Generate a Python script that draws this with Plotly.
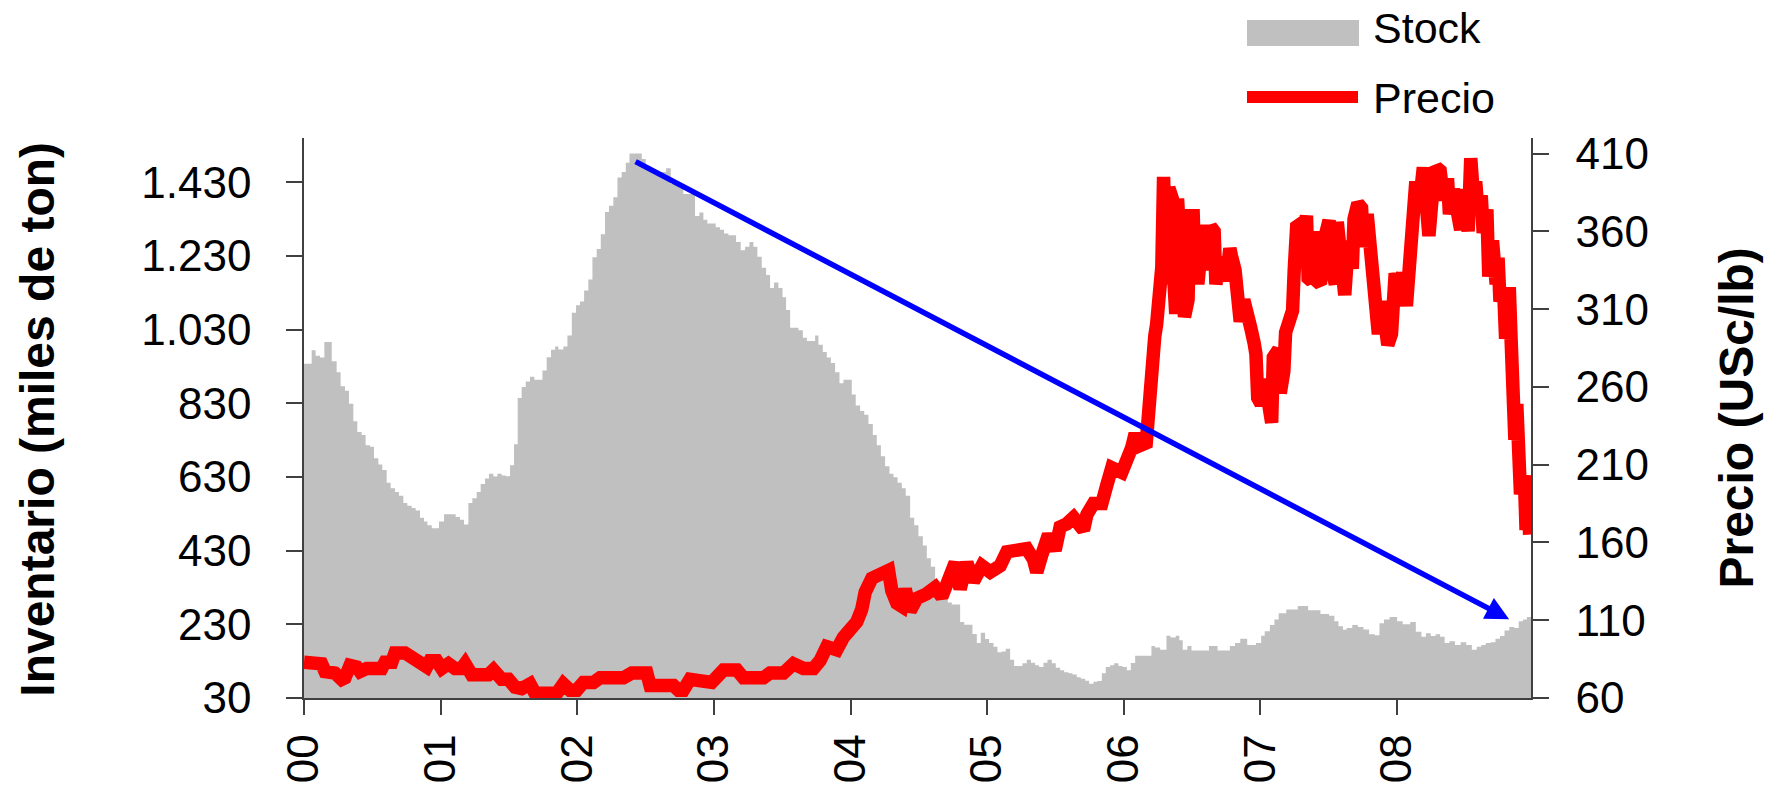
import plotly.graph_objects as go

# ---------------- data ----------------
# x values are years since 2000 (decimal), axis labels 00..08
stock_years = [
    0.000, 0.056, 0.085, 0.117, 0.149, 0.203, 0.239, 0.268, 0.300, 0.329,
    0.361, 0.390, 0.422, 0.451, 0.483, 0.512, 0.544, 0.573, 0.605, 0.634,
    0.666, 0.695, 0.727, 0.756, 0.788, 0.817, 0.849, 0.878, 0.903, 0.935,
    0.988, 1.025, 1.110, 1.142, 1.171, 1.203, 1.232, 1.264, 1.293, 1.325,
    1.354, 1.386, 1.415, 1.447, 1.476, 1.508, 1.537, 1.564, 1.593, 1.623,
    1.654, 1.686, 1.745, 1.776, 1.808, 1.838, 1.862, 1.898, 1.928, 1.960,
    1.991, 2.020, 2.050, 2.081, 2.111, 2.142, 2.172, 2.203, 2.232, 2.264,
    2.294, 2.325, 2.355, 2.382, 2.472, 2.501, 2.533, 2.562, 2.650, 2.684,
    2.776, 2.862, 2.894, 2.923, 2.952, 3.013, 3.045, 3.074, 3.106, 3.162,
    3.196, 3.228, 3.260, 3.289, 3.318, 3.350, 3.382, 3.411, 3.440, 3.472,
    3.502, 3.528, 3.558, 3.619, 3.651, 3.680, 3.741, 3.765, 3.797, 3.826,
    3.856, 3.887, 3.919, 3.948, 4.009, 4.038, 4.070, 4.100, 4.131, 4.163,
    4.192, 4.222, 4.253, 4.285, 4.314, 4.344, 4.375, 4.404, 4.436, 4.466,
    4.497, 4.529, 4.558, 4.588, 4.619, 4.651, 4.680, 4.712, 4.741, 4.802,
    4.832, 4.892, 4.924, 4.953, 4.985, 5.014, 5.046, 5.075, 5.107, 5.136,
    5.168, 5.197, 5.258, 5.290, 5.320, 5.351, 5.380, 5.412, 5.441, 5.473,
    5.502, 5.534, 5.563, 5.595, 5.624, 5.656, 5.685, 5.717, 5.746, 5.778,
    5.807, 5.839, 5.868, 5.900, 5.929, 5.961, 5.990, 6.022, 6.051, 6.083,
    6.202, 6.227, 6.266, 6.312, 6.342, 6.380, 6.406, 6.431, 6.465, 6.495,
    6.623, 6.686, 6.776, 6.814, 6.852, 6.903, 6.967, 7.005, 7.031, 7.069,
    7.102, 7.133, 7.189, 7.273, 7.349, 7.439, 7.502, 7.541, 7.571, 7.604,
    7.630, 7.672, 7.713, 7.754, 7.795, 7.836, 7.871, 7.904, 7.945, 8.000,
    8.041, 8.096, 8.137, 8.178, 8.211, 8.246, 8.282, 8.315, 8.348, 8.383,
    8.424, 8.465, 8.506, 8.547, 8.583, 8.616, 8.649, 8.684, 8.720, 8.753,
    8.786, 8.821, 8.857, 8.890, 8.922, 8.950, 8.980,
]
stock_values = [
    937, 974, 959, 954, 996, 944, 914, 876, 864, 829,
    781, 752, 744, 716, 712, 681, 664, 649, 614, 599,
    589, 579, 559, 552, 546, 539, 519, 509, 499, 491,
    509, 529, 521, 514, 501, 559, 572, 589, 611, 626,
    639, 631, 639, 634, 632, 662, 719, 844, 874, 889,
    902, 894, 919, 955, 975, 984, 976, 984, 1014, 1076,
    1096, 1106, 1136, 1166, 1226, 1249, 1289, 1349, 1366, 1389,
    1443, 1458, 1483, 1508, 1493, 1468, 1465, 1458, 1468, 1425,
    1398, 1338, 1348, 1328, 1318, 1308, 1301, 1291, 1286, 1268,
    1245, 1255, 1268, 1255, 1228, 1198, 1178, 1143, 1158, 1143,
    1118, 1083, 1035, 1028, 1008, 999, 1014, 989, 969, 954,
    939, 914, 884, 894, 854, 824, 809, 799, 774, 744,
    716, 686, 659, 639, 629, 614, 599, 579, 519, 499,
    469, 444, 409, 386, 349, 319, 304, 289, 284, 236,
    229, 204, 179, 207, 190, 179, 169, 154, 156, 164,
    134, 117, 124, 134, 126, 119, 114, 126, 134, 124,
    112, 105, 100, 97, 94, 86, 82, 77, 69, 74,
    76, 97, 114, 119, 124, 117, 114, 105, 125, 145,
    171, 167, 161, 199, 194, 199, 187, 161, 171, 159,
    171, 159, 171, 179, 191, 174, 179, 199, 211, 228,
    243, 260, 270, 280, 268, 258, 253, 238, 225, 215,
    220, 228, 223, 216, 203, 200, 233, 243, 250, 238,
    230, 236, 210, 196, 206, 198, 203, 196, 179, 184,
    174, 181, 174, 161, 169, 174, 179, 181, 191, 198,
    213, 223, 220, 238, 243, 250, 250,
]

price_years = [
    0.000, 0.044, 0.056, 0.080, 0.129, 0.154, 0.203, 0.227, 0.276, 0.300,
    0.337, 0.385, 0.410, 0.434, 0.459, 0.569, 0.593, 0.642, 0.666, 0.739,
    0.788, 0.849, 0.898, 0.922, 0.971, 1.008, 1.057, 1.105, 1.154, 1.179,
    1.227, 1.350, 1.386, 1.447, 1.496, 1.545, 1.593, 1.654, 1.691, 1.813,
    1.850, 1.898, 1.947, 1.996, 2.045, 2.118, 2.167, 2.338, 2.399, 2.509,
    2.533, 2.606, 2.655, 2.704, 2.741, 2.776, 2.825, 2.948, 2.984, 3.070,
    3.168, 3.216, 3.363, 3.411, 3.509, 3.582, 3.655, 3.729, 3.777, 3.826,
    3.875, 3.899, 3.948, 3.997, 4.046, 4.082, 4.107, 4.156, 4.217, 4.278,
    4.302, 4.339, 4.375, 4.400, 4.436, 4.485, 4.558, 4.619, 4.668, 4.717,
    4.766, 4.802, 4.851, 4.900, 4.961, 5.022, 5.095, 5.144, 5.241, 5.290,
    5.339, 5.363, 5.400, 5.449, 5.497, 5.534, 5.583, 5.632, 5.705, 5.730,
    5.778, 5.839, 5.876, 5.912, 5.985, 6.022, 6.058, 6.083, 6.110, 6.164,
    6.176, 6.189, 6.215, 6.227, 6.240, 6.266, 6.278, 6.291, 6.312, 6.329,
    6.355, 6.368, 6.380, 6.393, 6.406, 6.419, 6.444, 6.470, 6.483, 6.508,
    6.521, 6.546, 6.559, 6.584, 6.610, 6.635, 6.661, 6.674, 6.699, 6.725,
    6.750, 6.776, 6.788, 6.814, 6.827, 6.852, 6.878, 6.903, 6.929, 6.954,
    6.967, 6.980, 7.005, 7.031, 7.056, 7.082, 7.094, 7.133, 7.145, 7.171,
    7.184, 7.209, 7.235, 7.247, 7.265, 7.298, 7.324, 7.337, 7.349, 7.375,
    7.400, 7.413, 7.439, 7.451, 7.477, 7.502, 7.528, 7.548, 7.562, 7.576,
    7.598, 7.617, 7.644, 7.672, 7.685, 7.713, 7.740, 7.754, 7.781, 7.795,
    7.808, 7.836, 7.850, 7.863, 7.891, 7.918, 7.932, 7.959, 7.986, 8.014,
    8.041, 8.068, 8.096, 8.123, 8.137, 8.164, 8.192, 8.205, 8.233, 8.260,
    8.287, 8.315, 8.342, 8.369, 8.383, 8.411, 8.438, 8.465, 8.493, 8.520,
    8.539, 8.561, 8.575, 8.588, 8.616, 8.630, 8.657, 8.671, 8.698, 8.725,
    8.739, 8.753, 8.780, 8.794, 8.821, 8.835, 8.848, 8.862, 8.876, 8.890,
    8.903, 8.931, 8.944, 8.958, 8.970,
]
price_values = [
    83, 83, 84, 82, 82, 77, 77, 76, 72, 73,
    81, 80, 77, 78, 79, 79, 83, 83, 89, 89,
    86, 81, 80, 84, 84, 79, 82, 79, 79, 82,
    75, 75, 78, 72, 72, 67, 66, 69, 63, 63,
    63, 69, 65, 65, 70, 70, 73, 73, 76, 76,
    68, 68, 68, 68, 65, 65, 72, 72, 70, 78,
    78, 73, 73, 76, 76, 82, 79, 79, 84, 93,
    93, 91, 99, 104, 109, 117, 128, 137, 139, 142,
    129, 121, 119, 130, 116, 124, 127, 131, 125, 138,
    147, 130, 147, 135, 145, 141, 145, 154, 154, 156,
    149, 141, 152, 165, 155, 170, 172, 176, 168, 178,
    185, 185, 197, 208, 205, 211, 221, 230, 222, 224,
    242, 260, 265, 293, 300, 330, 337, 395, 326, 388,
    381, 326, 307, 381, 358, 307, 305, 316, 370, 370,
    330, 330, 360, 364, 335, 363, 360, 326, 340, 342,
    328, 349, 344, 335, 307, 302, 316, 300, 298, 288,
    281, 253, 249, 265, 249, 237, 279, 284, 256, 270,
    295, 307, 309, 335, 363, 365, 363, 370, 330, 328,
    360, 328, 326, 349, 360, 367, 333, 326, 366, 347,
    324, 319, 354, 336, 368, 378, 375, 350, 371, 359,
    340, 336, 308, 294, 315, 294, 287, 294, 333, 324,
    333, 312, 354, 364, 392, 378, 401, 387, 357, 385,
    401, 399, 380, 394, 371, 387, 378, 361, 387, 360,
    407, 380, 392, 378, 383, 359, 374, 331, 354, 326,
    343, 315, 322, 291, 324, 289, 256, 226, 249, 196,
    191, 203, 168, 191, 165,
]

year_ticks = [0, 1, 2, 3, 4, 5, 6, 7, 8]
year_labels = ["00", "01", "02", "03", "04", "05", "06", "07", "08"]
stock_ticks = [30, 230, 430, 630, 830, 1030, 1230, 1430]
stock_labels = ["30", "230", "430", "630", "830", "1.030", "1.230", "1.430"]
price_ticks = [60, 110, 160, 210, 260, 310, 360, 410]
price_labels = ["60", "110", "160", "210", "260", "310", "360", "410"]

trend_start = (2.416, 1488)   # (year, stock)
trend_end = (8.82, 244)

# ---------------- figure ----------------
FONT = "Liberation Sans, Arial, Helvetica, sans-serif"
AXIS_COLOR = "#404040"

fig = go.Figure()
fig.add_trace(go.Scatter(
    x=stock_years, y=stock_values, name="Stock", yaxis="y",
    mode="lines", line=dict(width=0, shape="hv", color="#C0C0C0"),
    fill="tozeroy", fillcolor="#C0C0C0", showlegend=False, hoverinfo="skip",
))
fig.add_trace(go.Scatter(
    x=price_years, y=price_values, name="Precio", yaxis="y2",
    mode="lines", line=dict(width=13.5, color="#FF0000"),
    showlegend=False,
))

W, H = 1778, 789
L, R, T, B = 304, 247, 138, 91
PW, PH = W - L - R, H - T - B


def px_x(p):
    return (p - L) / PW


def px_y(p):
    return (H - B - p) / PH


fig.update_layout(
    template="none",
    width=W, height=H,
    margin=dict(l=L, r=R, t=T, b=B, pad=0, autoexpand=False),
    paper_bgcolor="white", plot_bgcolor="white",
    font=dict(family=FONT, color="black", size=44),
    showlegend=False,
    xaxis=dict(
        range=[0, 8.98], tickmode="array", tickvals=year_ticks, ticktext=year_labels,
        tickangle=-90, ticks="outside", ticklen=15, tickwidth=1.5, tickcolor=AXIS_COLOR,
        showline=True, linecolor=AXIS_COLOR, linewidth=1.5, showgrid=False, zeroline=False,
        tickfont=dict(size=44, family=FONT, color="black"), ticklabelstandoff=2,
        automargin=False,
    ),
    yaxis=dict(
        range=[30, 1550], tickmode="array", tickvals=stock_ticks, ticktext=stock_labels,
        ticks="outside", ticklen=16, tickwidth=1.5, tickcolor=AXIS_COLOR,
        showline=True, linecolor=AXIS_COLOR, linewidth=1.5, showgrid=False, zeroline=False,
        tickfont=dict(size=44, family=FONT, color="black"), ticklabelstandoff=26,
        automargin=False,
    ),
    yaxis2=dict(
        range=[60, 420], overlaying="y", side="right", anchor="x",
        tickmode="array", tickvals=price_ticks, ticktext=price_labels,
        ticks="outside", ticklen=16, tickwidth=1.5, tickcolor=AXIS_COLOR,
        showline=True, linecolor=AXIS_COLOR, linewidth=1.5, showgrid=False, zeroline=False,
        tickfont=dict(size=44, family=FONT, color="black"), ticklabelstandoff=18,
        automargin=False,
    ),
)

annotations = [
    dict(text="<b>Inventario (miles de ton)</b>", xref="paper", yref="paper",
         x=px_x(38), y=0.497, textangle=-90, showarrow=False,
         xanchor="center", yanchor="middle", font=dict(size=48, family=FONT, color="black")),
    dict(text="<b>Precio (USc/lb)</b>", xref="paper", yref="paper",
         x=px_x(1737), y=0.499, textangle=-90, showarrow=False,
         xanchor="center", yanchor="middle", font=dict(size=48, family=FONT, color="black")),
    # legend texts
    dict(text="Stock", xref="paper", yref="paper", x=px_x(1371), y=px_y(28),
         showarrow=False, xanchor="left", yanchor="middle",
         font=dict(size=43, family=FONT, color="black")),
    dict(text="Precio", xref="paper", yref="paper", x=px_x(1371), y=px_y(98),
         showarrow=False, xanchor="left", yanchor="middle",
         font=dict(size=43, family=FONT, color="black")),
    # trend arrow
    dict(text="", x=trend_end[0], y=trend_end[1], xref="x", yref="y",
         ax=trend_start[0], ay=trend_start[1], axref="x", ayref="y",
         showarrow=True, arrowhead=2, arrowsize=0.85, arrowwidth=5.5,
         arrowcolor="#0000FF", standoff=0, startstandoff=0),
]
fig.update_layout(annotations=annotations)

shapes = [
    dict(type="rect", xref="paper", yref="paper",
         x0=px_x(1247), x1=px_x(1359), y0=px_y(46), y1=px_y(20),
         fillcolor="#C0C0C0", line=dict(width=0)),
    dict(type="line", xref="paper", yref="paper",
         x0=px_x(1247), x1=px_x(1358), y0=px_y(97), y1=px_y(97),
         line=dict(color="#FF0000", width=12)),
]
fig.update_layout(shapes=shapes)

fig.write_html("out.html", include_plotlyjs=True, full_html=True,
               config={"displayModeBar": False},
               post_script="document.body.style.margin='0';document.body.style.overflow='hidden';")
